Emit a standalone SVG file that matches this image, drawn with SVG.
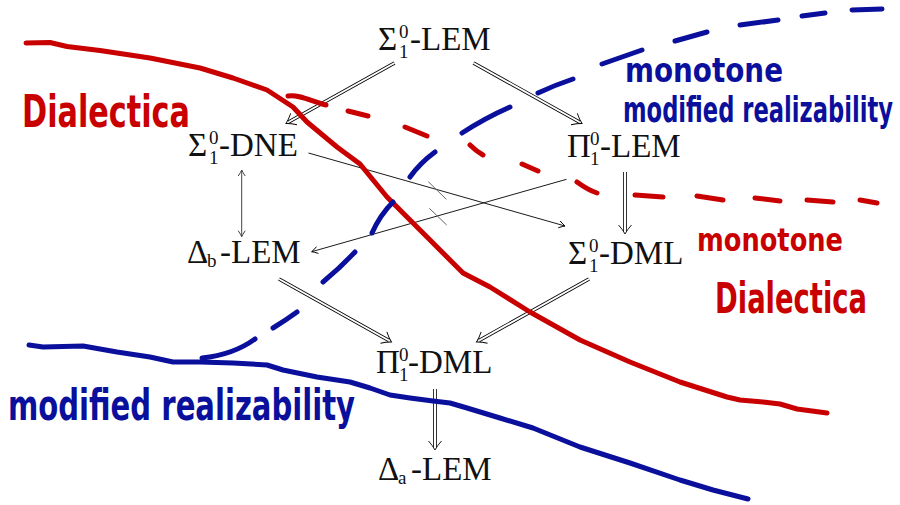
<svg xmlns="http://www.w3.org/2000/svg" width="900" height="505" viewBox="0 0 900 505">
<style>
.node{font-family:"Liberation Serif","DejaVu Serif",serif;font-size:33px;fill:#111}
.sc{font-size:19px}
.dbl-o{stroke:#000;stroke-width:3.6;fill:none;marker-end:url(#dhead)}
.dbl-i{stroke:#fff;stroke-width:2;fill:none}
.sgl{stroke:#000;stroke-width:0.9;fill:none;marker-end:url(#shead)}
.bidir{stroke:#444;stroke-width:1;fill:none;marker-start:url(#gshead);marker-end:url(#gshead)}
.strike{stroke:#666;stroke-width:1}
.red{stroke:#c80000;stroke-width:5;fill:none;stroke-linecap:round;stroke-linejoin:round}
.blue{stroke:#0a0f9c;stroke-width:5;fill:none;stroke-linecap:round;stroke-linejoin:round}
.hw{font-family:"DejaVu Sans Condensed","DejaVu Sans",sans-serif;font-weight:bold}
.hwr{fill:#c80000}
.hwb{fill:#0a0f9c}
</style>
<defs>
<marker id="dhead" markerUnits="userSpaceOnUse" viewBox="-10 -8 12 16" refX="-3" refY="0" markerWidth="12" markerHeight="16" orient="auto" overflow="visible">
<path d="M-9,-6.5 Q-4,-2 0,0 Q-4,2 -9,6.5" fill="none" stroke="#000" stroke-width="0.9"/>
</marker>
<marker id="shead" markerUnits="userSpaceOnUse" viewBox="-8 -5 10 10" refX="0" refY="0" markerWidth="10" markerHeight="10" orient="auto" overflow="visible">
<path d="M-6,-3.5 Q-2,-0.8 0,0 Q-2,0.8 -6,3.5" fill="none" stroke="#000" stroke-width="0.9"/>
</marker>
<marker id="gshead" markerUnits="userSpaceOnUse" viewBox="-8 -5 10 10" refX="0" refY="0" markerWidth="10" markerHeight="10" orient="auto-start-reverse" overflow="visible">
<path d="M-6,-3.5 Q-2,-0.8 0,0 Q-2,0.8 -6,3.5" fill="none" stroke="#444" stroke-width="1"/>
</marker>
</defs>

<g id="connectors">
<line class="dbl-o" x1="394.5" y1="63" x2="288.6" y2="122"/>
<line class="dbl-i" x1="394.5" y1="63" x2="288.6" y2="122"/>
<line class="dbl-o" x1="473.5" y1="63" x2="579.4" y2="122"/>
<line class="dbl-i" x1="473.5" y1="63" x2="579.4" y2="122"/>
<line class="dbl-o" x1="625" y1="172" x2="625" y2="231"/>
<line class="dbl-i" x1="625" y1="172" x2="625" y2="231"/>
<line class="dbl-o" x1="279" y1="279" x2="388.9" y2="340.5"/>
<line class="dbl-i" x1="279" y1="279" x2="388.9" y2="340.5"/>
<line class="dbl-o" x1="589" y1="279" x2="479.1" y2="340.5"/>
<line class="dbl-i" x1="589" y1="279" x2="479.1" y2="340.5"/>
<line class="dbl-o" x1="435" y1="389" x2="435" y2="447"/>
<line class="dbl-i" x1="435" y1="389" x2="435" y2="447"/>
<line class="sgl" x1="308.5" y1="153" x2="565" y2="226"/>
<line class="sgl" x1="566.5" y1="179.3" x2="311.7" y2="251.7"/>
<line class="bidir" x1="241.7" y1="170" x2="241.7" y2="236.7"/>
<line class="strike" x1="428.3" y1="181.7" x2="446.3" y2="199.3"/>
<line class="strike" x1="429.3" y1="208.3" x2="446.7" y2="225"/>
</g>

<g id="n-s1lem"><text class="node" x="378" y="50">Σ<tspan class="sc" x="399" y="38">0</tspan><tspan class="sc" x="399" y="58">1</tspan><tspan x="410" y="50">-LEM</tspan></text></g>
<g id="n-s1dne"><text class="node" x="188" y="156">Σ<tspan class="sc" x="209" y="144">0</tspan><tspan class="sc" x="209" y="164">1</tspan><tspan x="219" y="156">-DNE</tspan></text></g>
<g id="n-p1lem"><text class="node" x="567" y="157">Π<tspan class="sc" x="590" y="145">0</tspan><tspan class="sc" x="590" y="165">1</tspan><tspan x="600" y="157">-LEM</tspan></text></g>
<g id="n-dblem"><text class="node" x="187" y="263">Δ<tspan class="sc" x="207" y="267">b</tspan><tspan x="220" y="263">-LEM</tspan></text></g>
<g id="n-s1dml"><text class="node" x="568" y="264">Σ<tspan class="sc" x="589" y="252">0</tspan><tspan class="sc" x="589" y="272">1</tspan><tspan x="599" y="264">-DML</tspan></text></g>
<g id="n-p1dml"><text class="node" x="376" y="373">Π<tspan class="sc" x="399" y="361">0</tspan><tspan class="sc" x="399" y="381">1</tspan><tspan x="408" y="373">-DML</tspan></text></g>
<g id="n-dalem"><text class="node" x="378" y="480">Δ<tspan class="sc" x="398" y="484">a</tspan><tspan x="411" y="480">-LEM</tspan></text></g>

<g id="annotations">
<path class="red" d="M26,43 L50,42.5 L67,46.5 L100,50.5 L150,58 L200,68 L233,78 L267,90 L293,107 L307,122 L337,147 L360,164 L387,197 L413,223 L440,250 L463,273 L490,287 L530,312 L580,340 L630,362 L680,382 L727,397 L740,400 L763,402 L780,404 L797,409 L827,413"/>
<path class="red" d="M288,96 C300,94 312,102 326,105 M348,111 L368,116 M405,127 L427,136 M470,145 Q476,151 483,155 M522,164 L538,171 M577,182 Q588,190 597,193 M635,195 L663,197 M697,196 L723,200 M755,198 L780,201 M807,200 L833,202 M860,200 L877,203"/>
<path class="blue" d="M29,345 L43,347 L83,346 L117,352 L150,357 L173,362 L200,362 L233,363 L267,365 L283,370 L317,377 L350,382 L370,388 L390,395 L410,398 L433,401 L450,403 L467,408 L500,418 L533,428 L580,447 L630,463 L680,480 L713,490 L748,499"/>
<path class="blue" d="M202,358 C222,356 240,350 255,339 M273,328 Q286,320 297,312 M323,282 Q340,268 355,252 M372,233 Q380,215 393,202 M410,177 Q420,163 435,152 M462,133 Q485,118 510,107 M538,93 Q555,85 573,79 M602,64 L642,50 M675,41 L707,32 M740,25 L778,20 M802,16 L825,13 M852,10 L882,9"/>
<text class="hw hwr" transform="translate(22,127) scale(1,1.37)" font-size="33" textLength="168" lengthAdjust="spacingAndGlyphs">Dialectica</text>
<text class="hw hwb" transform="translate(625,82) scale(1,1.1)" font-size="31" textLength="158" lengthAdjust="spacingAndGlyphs">monotone</text>
<text class="hw hwb" transform="translate(623,122) scale(1,1.45)" font-size="25" textLength="270" lengthAdjust="spacingAndGlyphs">modified realizability</text>
<text class="hw hwr" transform="translate(697,251) scale(1,1.12)" font-size="28.5" textLength="146" lengthAdjust="spacingAndGlyphs">monotone</text>
<text class="hw hwr" transform="translate(715,313) scale(1,1.45)" font-size="30" textLength="152" lengthAdjust="spacingAndGlyphs">Dialectica</text>
<text class="hw hwb" transform="translate(8,420) scale(1,1.31)" font-size="32" textLength="347" lengthAdjust="spacingAndGlyphs">modified realizability</text>
</g>
</svg>
